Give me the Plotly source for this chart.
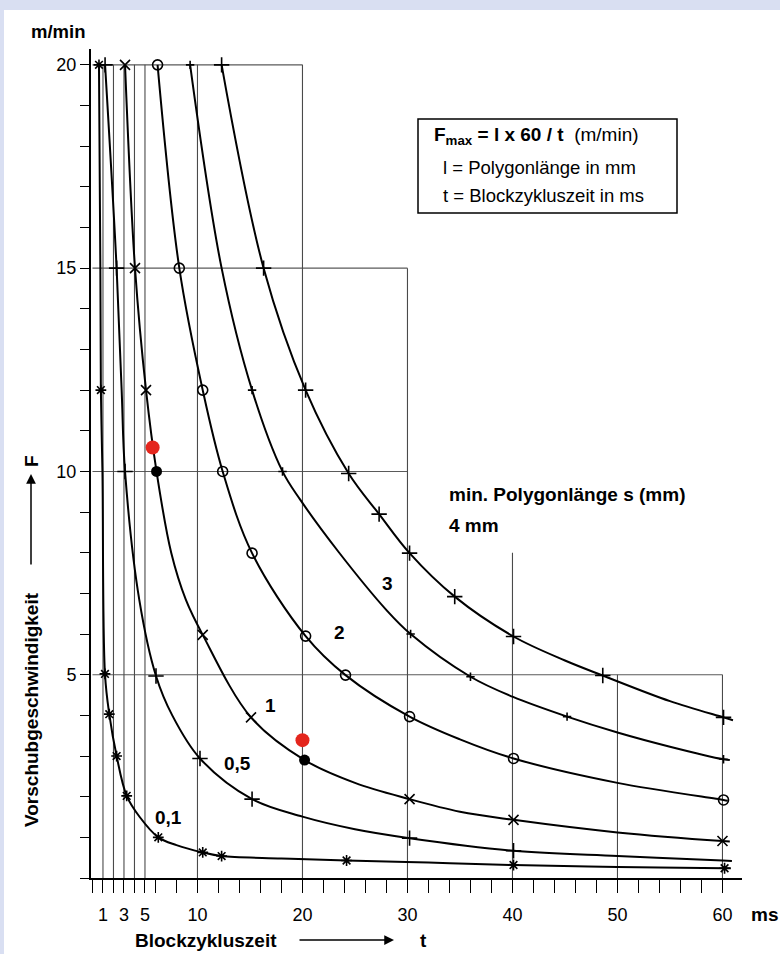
import plotly.graph_objects as go

# ---------------- data ----------------
# curve l = 0,1 mm  (asterisk markers)
t_01 = [0.62, 0.75, 0.80, 0.95, 1.19, 1.60, 2.30, 3.26, 4.50, 6.27, 8.0, 10.5, 12.3, 18.0, 24.2, 32.0, 40.1, 50.0, 60.2, 60.8]
F_01 = [20.0, 15.0, 12.0, 10.0, 5.02, 4.03, 3.00, 2.02, 1.50, 1.00, 0.81, 0.63, 0.54, 0.48, 0.43, 0.38, 0.32, 0.27, 0.24, 0.24]
mt_01 = [0.62, 0.80, 1.19, 1.60, 2.30, 3.26, 6.27, 10.5, 12.3, 24.2, 40.1, 60.2]
mF_01 = [20.0, 12.0, 5.02, 4.03, 3.00, 2.02, 1.00, 0.63, 0.54, 0.43, 0.32, 0.24]

# curve l = 0,5 mm  (plus markers)
t_05 = [1.2, 2.3, 2.78, 3.1, 4.46, 6.05, 7.6, 10.24, 15.2, 20.0, 25.0, 30.2, 40.1, 50.0, 60.0, 60.9]
F_05 = [20.0, 15.0, 12.0, 10.0, 6.84, 4.97, 4.00, 2.94, 1.94, 1.51, 1.20, 0.98, 0.67, 0.54, 0.43, 0.42]
mt_05 = [1.2, 2.3, 3.1, 6.05, 10.24, 15.2, 30.2, 40.1]
mF_05 = [20.0, 15.0, 10.0, 4.97, 2.94, 1.94, 0.98, 0.67]

# curve l = 1 mm  (x markers)
t_1 = [3.1, 4.05, 5.1, 6.1, 7.5, 8.9, 10.5, 15.1, 20.2, 25.0, 30.2, 35.0, 40.1, 50.0, 60.0, 60.7]
F_1 = [20.0, 15.0, 12.0, 10.0, 8.00, 6.84, 5.98, 3.95, 2.90, 2.34, 1.94, 1.63, 1.43, 1.12, 0.91, 0.90]
mt_1 = [3.1, 4.05, 5.1, 10.5, 15.1, 30.2, 40.1, 60.0]
mF_1 = [20.0, 15.0, 12.0, 5.98, 3.95, 1.94, 1.43, 0.91]

# curve l = 2 mm  (circle markers)
t_2 = [6.2, 8.27, 10.5, 12.4, 15.2, 20.3, 24.1, 30.2, 35.0, 40.1, 50.0, 60.1, 60.5]
F_2 = [20.0, 15.0, 12.0, 10.0, 7.99, 5.95, 4.99, 3.97, 3.41, 2.94, 2.34, 1.92, 1.90]
mt_2 = [6.2, 8.27, 10.5, 12.4, 15.2, 20.3, 24.1, 30.2, 40.1, 60.1]
mF_2 = [20.0, 15.0, 12.0, 10.0, 7.99, 5.95, 4.99, 3.97, 2.94, 1.92]

# curve l = 3 mm  (small plus markers)
t_3 = [9.3, 12.3, 15.2, 18.1, 19.8, 23.5, 28.0, 30.3, 36.0, 40.0, 45.2, 50.0, 55.0, 60.1, 60.7]
F_3 = [20.0, 15.0, 12.0, 10.0, 9.30, 8.00, 6.59, 6.00, 4.95, 4.46, 3.97, 3.58, 3.23, 2.92, 2.90]
mt_3 = [9.3, 15.2, 18.1, 30.3, 36.0, 45.2, 60.1]
mF_3 = [20.0, 12.0, 10.0, 6.00, 4.95, 3.97, 2.92]

# curve l = 4 mm  (plus markers)
t_4 = [12.3, 16.3, 20.3, 24.4, 27.3, 30.2, 34.5, 40.1, 45.0, 48.6, 55.0, 60.1, 61.0]
F_4 = [20.0, 15.0, 12.0, 9.95, 8.95, 7.99, 6.92, 5.94, 5.35, 4.98, 4.35, 3.95, 3.88]
mt_4 = [12.3, 16.3, 20.3, 24.4, 27.3, 30.2, 34.5, 40.1, 48.6, 60.1]
mF_4 = [20.0, 15.0, 12.0, 9.95, 8.95, 7.99, 6.92, 5.94, 4.98, 3.95]

# highlighted points
black_t = [6.1, 20.2]
black_F = [10.0, 2.9]
red_t = [5.73, 20.0]
red_F = [10.59, 3.39]

# grid frame lines: (t_end, F) horizontals and (t, F_top) verticals
h_lines_F = [20, 15, 10, 5]
h_lines_tend = [20, 30, 30, 60]
v_lines_t = [1, 2, 3, 4, 5, 10, 20, 30, 40, 50, 60]
v_lines_Ftop = [20, 20, 20, 20, 20, 20, 20, 15, 8, 5, 5]

x_tickvals = [0, 1, 2, 3, 4, 5] + list(range(6, 61, 2))
x_ticklabels = {1: "1", 3: "3", 5: "5", 10: "10", 20: "20", 30: "30", 40: "40", 50: "50", 60: "60"}
y_tickvals = list(range(0, 21))
y_ticklabels = {5: "5", 10: "10", 15: "15", 20: "20"}

curve_labels = ["3", "2", "1", "0,5", "0,1"]

# ---------------- layout geometry ----------------
W, H = 780, 954
L, R, T, B = 91, 38, 49, 76
PW, PH = W - L - R, H - T - B
FONT = "Liberation Sans, Arial, Helvetica, sans-serif"


def pxx(x):
    return (x - L) / PW


def pyy(y):
    return (H - B - y) / PH


fig = go.Figure()

curves = [
    (t_01, F_01, mt_01, mF_01, "asterisk-open", 9),
    (t_05, F_05, mt_05, mF_05, "cross-thin-open", 11),
    (t_1, F_1, mt_1, mF_1, "x-thin-open", 10),
    (t_2, F_2, mt_2, mF_2, "circle-open", 10),
    (t_3, F_3, mt_3, mF_3, "cross-thin-open", 6),
    (t_4, F_4, mt_4, mF_4, "cross-thin-open", 11),
]

for tt, FF, mt, mF, sym, size in curves:
    fig.add_trace(go.Scatter(x=tt, y=FF, mode="lines",
                             line=dict(color="black", width=2, shape="spline", smoothing=1.0),
                             hoverinfo="skip", showlegend=False))
    fig.add_trace(go.Scatter(x=mt, y=mF, mode="markers",
                             marker=dict(symbol=sym, size=size, color="black",
                                         line=dict(color="black", width=1.6)),
                             showlegend=False))

fig.add_trace(go.Scatter(x=black_t, y=black_F, mode="markers",
                         marker=dict(symbol="circle", size=11, color="black"), showlegend=False))
fig.add_trace(go.Scatter(x=red_t, y=red_F, mode="markers",
                         marker=dict(symbol="circle", size=14, color="#e4261d"), showlegend=False))

shapes = []
# white page area (lavender border only top / left)
shapes.append(dict(type="rect", xref="paper", yref="paper",
                   x0=pxx(4), x1=pxx(W + 2), y0=pyy(H + 2), y1=pyy(10),
                   fillcolor="white", line=dict(width=0), layer="below"))
for F, te in zip(h_lines_F, h_lines_tend):
    shapes.append(dict(type="line", xref="x", yref="y", x0=0, x1=te, y0=F, y1=F,
                       line=dict(color="#5a5a5a", width=1.1), layer="below"))
for tv, Ft in zip(v_lines_t, v_lines_Ftop):
    shapes.append(dict(type="line", xref="x", yref="y", x0=tv, x1=tv, y0=0, y1=Ft,
                       line=dict(color="#4a4a4a", width=1.1), layer="below"))
# formula box
shapes.append(dict(type="rect", xref="paper", yref="paper",
                   x0=pxx(418), x1=pxx(677), y0=pyy(213), y1=pyy(119),
                   line=dict(color="black", width=1.5), fillcolor="white"))

ann = []


def text(x, y, s, size=19, bold=True, anchor="center", angle=0):
    ann.append(dict(xref="paper", yref="paper", x=pxx(x), y=pyy(y),
                    text=("<b>%s</b>" % s) if bold else s, showarrow=False,
                    xanchor=anchor, yanchor="middle", textangle=angle,
                    font=dict(family=FONT, size=size, color="black")))


text(58, 32, "m/min", 18.5)
text(764, 914, "ms", 19)
text(206, 940, "Blockzykluszeit", 19)
text(423, 940, "t", 19)
text(31, 710, "Vorschubgeschwindigkeit", 19, angle=-90)
text(31, 461, "F", 19, angle=-90)
# arrows
ann.append(dict(xref="paper", yref="paper", x=pxx(394), y=pyy(940), ax=-96, ay=0,
                text="", showarrow=True, arrowhead=2, arrowsize=1.3, arrowwidth=1.5,
                arrowcolor="black"))
ann.append(dict(xref="paper", yref="paper", x=pxx(31), y=pyy(474), ax=0, ay=92,
                text="", showarrow=True, arrowhead=2, arrowsize=1.3, arrowwidth=1.5,
                arrowcolor="black"))
# formula box text
ann.append(dict(xref="paper", yref="paper", x=pxx(432), y=pyy(136),
                text="<b>F<sub>max</sub> = l x 60 / t</b>  (m/min)", showarrow=False,
                xanchor="left", yanchor="middle", font=dict(family=FONT, size=19, color="black")))
text(441, 167, "l = Polygonlänge in mm", 18.5, bold=False, anchor="left")
text(441, 196, "t = Blockzykluszeit in ms", 18.5, bold=False, anchor="left")
# right texts
text(447, 494, "min. Polygonlänge s (mm)", 19, anchor="left")
text(447, 525, "4 mm", 19, anchor="left")
# curve labels
for s, (x, y) in zip(curve_labels, [(387, 583), (339, 633), (270, 705), (237, 763), (168, 817)]):
    text(x, y, s, 19)

fig.update_layout(
    width=W, height=H,
    margin=dict(l=L, r=R, t=T, b=B, pad=0),
    paper_bgcolor="#d9dff2",
    plot_bgcolor="rgba(0,0,0,0)",
    shapes=shapes,
    annotations=ann,
    showlegend=False,
    font=dict(family=FONT, color="black"),
    xaxis=dict(range=[-0.14, 61.86], showgrid=False, zeroline=False,
               showline=True, linecolor="black", linewidth=2,
               ticks="outside", ticklen=13, tickwidth=1.4, tickcolor="black",
               tickmode="array", tickvals=x_tickvals,
               ticktext=[x_ticklabels.get(v, "") for v in x_tickvals],
               tickfont=dict(size=18, family=FONT, color="black"),
               ticklabelstandoff=6),
    yaxis=dict(range=[0, 20.39], showgrid=False, zeroline=False,
               showline=True, linecolor="black", linewidth=2,
               ticks="outside", ticklen=9, tickwidth=1.4, tickcolor="black",
               tickmode="array", tickvals=y_tickvals,
               ticktext=[y_ticklabels.get(v, "") for v in y_tickvals],
               tickfont=dict(size=18, family=FONT, color="black"),
               ticklabelstandoff=0),
)

fig.write_html("out.html", config={"displayModeBar": False},
               post_script="document.body.style.margin='0px';document.body.style.overflow='hidden';")
